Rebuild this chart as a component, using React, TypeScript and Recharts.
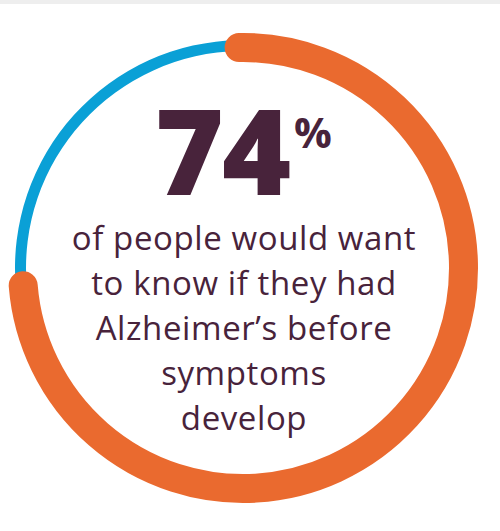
import React from 'react';
import { PieChart, Pie, Cell } from 'recharts';

const categories = ['Would want to know', 'Would not want to know'];
const values = [74, 26];
const headline = '74';
const headlineUnit = '%';
const captionLines = [
  'of people would want',
  'to know if they had',
  'Alzheimer\u2019s before',
  'symptoms',
  'develop',
];

const ORANGE = '#ea6a2f';
const BLUE = '#0aa0d6';
const PLUM = '#48233b';

const data = categories.map((name, i) => ({ name, value: values[i] }));

const RAD = Math.PI / 180;
const polar = (cx: number, cy: number, r: number, a: number) => ({
  x: cx + r * Math.cos(-a * RAD),
  y: cy + r * Math.sin(-a * RAD),
});

const RoundArc = (props: any) => {
  const { cx, cy, innerRadius, outerRadius, startAngle, endAngle, fill } = props;
  if (!fill || fill === 'none') return <g />;
  const r = (innerRadius + outerRadius) / 2;
  const w = outerRadius - innerRadius;
  const p0 = polar(cx, cy, r, startAngle);
  const p1 = polar(cx, cy, r, endAngle);
  const delta = Math.abs(endAngle - startAngle);
  const large = delta > 180 ? 1 : 0;
  const sweep = endAngle < startAngle ? 1 : 0;
  const d = `M ${p0.x} ${p0.y} A ${r} ${r} 0 ${large} ${sweep} ${p1.x} ${p1.y}`;
  return <path d={d} fill="none" stroke={fill} strokeWidth={w} strokeLinecap="round" />;
};

const CX = 243;
const CY = 268;
const START = 91;

export default function App() {
  return (
    <div style={{ position: 'absolute', left: 0, top: 0, width: 500, height: 531, background: '#fff' }}>
      <div style={{ position: 'absolute', left: 0, top: 0, width: 500, height: 4, background: '#eeeeee' }} />
      <PieChart width={500} height={531} margin={{ top: 0, right: 0, bottom: 0, left: 0 }}>
        <Pie
          data={data}
          dataKey="value"
          nameKey="name"
          cx={CX}
          cy={CY}
          innerRadius={217}
          outerRadius={228}
          startAngle={START}
          endAngle={START - 360}
          stroke="none"
          isAnimationActive={false}
        >
          <Cell fill="none" />
          <Cell fill={BLUE} />
        </Pie>
        <Pie
          data={data}
          dataKey="value"
          nameKey="name"
          cx={CX}
          cy={CY}
          innerRadius={206}
          outerRadius={235}
          startAngle={START}
          endAngle={START - 360}
          stroke="none"
          shape={RoundArc}
          inactiveShape={RoundArc}
          activeShape={RoundArc}
          isAnimationActive={false}
        >
          <Cell fill={ORANGE} />
          <Cell fill="none" />
        </Pie>
        <text
          x={222}
          y={195}
          textAnchor="middle"
          fill={PLUM}
          style={{ fontFamily: '"Open Sans", sans-serif', fontWeight: 800, fontSize: 118, letterSpacing: -2 }}
        >
          {headline}
        </text>
        <text
          x={294}
          y={148}
          textAnchor="start"
          fill={PLUM}
          style={{ fontFamily: '"Open Sans", sans-serif', fontWeight: 700, fontSize: 42 }}
        >
          {headlineUnit}
        </text>
        {captionLines.map((line, i) => (
          <text
            key={i}
            x={244}
            y={250 + i * 45}
            textAnchor="middle"
            fill={PLUM}
            style={{ fontFamily: '"Open Sans", sans-serif', fontWeight: 500, fontSize: 33, letterSpacing: 0.6 }}
          >
            {line}
          </text>
        ))}
      </PieChart>
    </div>
  );
}
